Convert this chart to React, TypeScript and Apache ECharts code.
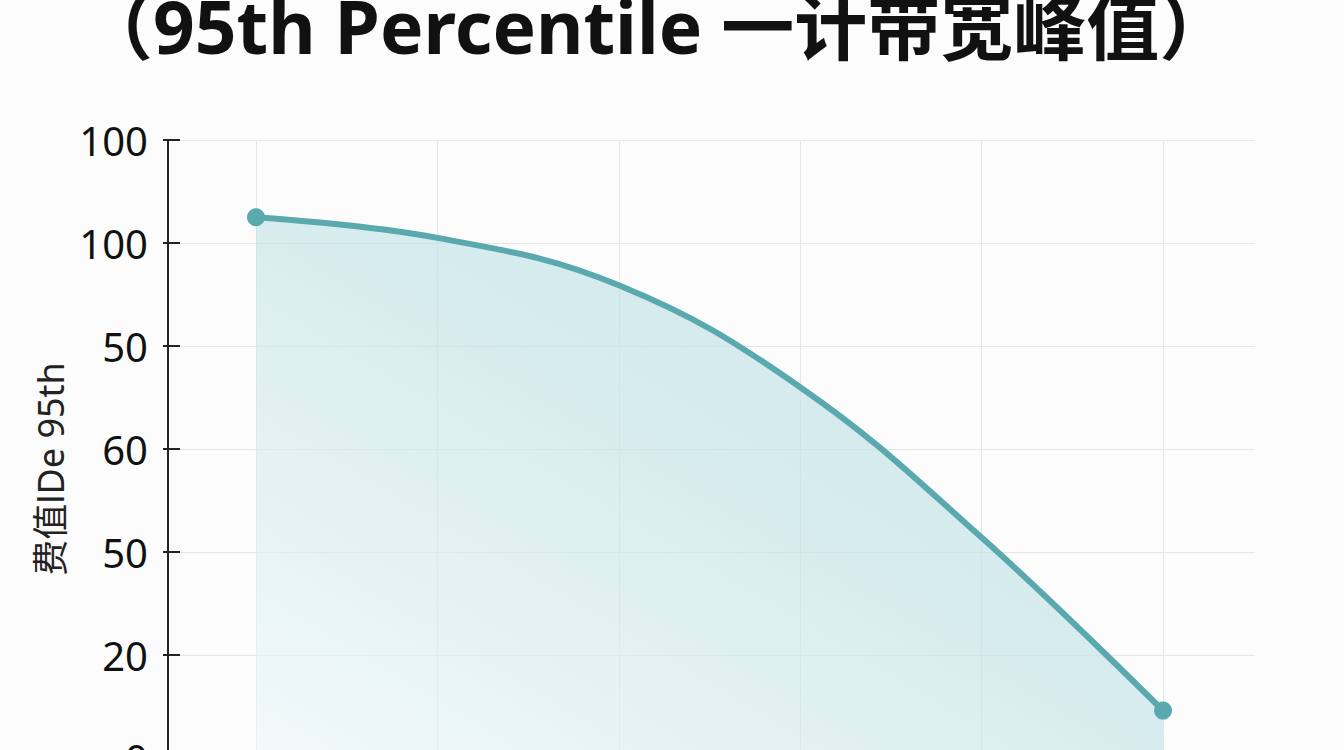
import { useEffect, useRef } from "react"
import * as echarts from "echarts"

// y axis is a plain 0..6 index scale; these are the labels printed at each step, bottom to top
const yTickLabels = ["0", "20", "50", "60", "50", "100", "100"]
const categories = ["1", "2", "3", "4", "5", "6"]
// values, in y-axis steps
const peakValues = [5.25, 5.05, 4.59, 3.6, 2.14, 0.46]

const titleText = "（95th Percentile 一计带宽峰值）"
const yName = "费值lDe 95th"

const W = 1344
const H = 800

export default function App() {
  const hostRef = useRef<HTMLDivElement>(null)

  useEffect(() => {
    const el = hostRef.current
    if (!el) return
    const chart = echarts.init(el, undefined, { renderer: "svg" })

    const last = peakValues.length - 1
    const fmt = (v: number) => yTickLabels[Math.round(v)] ?? ""

    chart.setOption({
      animation: false,
      backgroundColor: "#fcfcfc",
      title: {
        text: titleText,
        left: 80,
        top: -11,
        padding: 0,
        textStyle: {
          fontFamily: "'Noto Sans', 'Noto Sans CJK SC', sans-serif",
          fontWeight: "bold",
          fontSize: 73,
          color: "#111",
        },
      },
      grid: [
        { left: 180, right: W - 1255, top: 140, bottom: H - 758 },
        { left: 256, right: W - 1163, top: 140, bottom: H - 758 },
      ],
      xAxis: [
        { type: "value", gridIndex: 0, show: false, min: 0, max: 1 },
        {
          type: "category",
          gridIndex: 1,
          data: categories,
          boundaryGap: false,
          axisLine: { show: false },
          axisTick: { show: false },
          axisLabel: { show: false },
          splitLine: { show: true, lineStyle: { color: "#e5e5e5", width: 1 } },
        },
      ],
      yAxis: [
        {
          type: "value",
          gridIndex: 0,
          position: "left",
          min: 0,
          max: 6,
          interval: 1,
          offset: 12,
          name: yName,
          nameLocation: "middle",
          nameRotate: 90,
          nameGap: 87,
          nameTextStyle: {
            fontFamily: "'Noto Sans', 'Noto Sans CJK SC', sans-serif",
            fontSize: 36,
            color: "#222",
            padding: [0, 40, 0, 0],
          },
          axisLine: { show: true, onZero: false, lineStyle: { color: "#222", width: 2 } },
          axisTick: { show: true, length: 5, lineStyle: { color: "#222", width: 2 } },
          axisLabel: {
            formatter: fmt,
            fontFamily: "'Noto Sans', sans-serif",
            fontSize: 40,
            color: "#111",
            margin: 20,
          },
          splitLine: { show: true, lineStyle: { color: "#e5e5e5", width: 1 } },
        },
        {
          type: "value",
          gridIndex: 0,
          position: "left",
          min: 0,
          max: 6,
          interval: 1,
          offset: 12,
          axisLine: { show: false, onZero: false },
          axisTick: { show: true, inside: true, length: 12, lineStyle: { color: "#222", width: 2 } },
          axisLabel: { show: false },
          splitLine: { show: false },
        },
        {
          type: "value",
          gridIndex: 1,
          min: 0,
          max: 6,
          interval: 1,
          show: false,
          splitLine: { show: false },
        },
      ],
      series: [
        {
          type: "line",
          xAxisIndex: 1,
          yAxisIndex: 2,
          smooth: 0.4,
          data: peakValues.map((v, i) => ({
            value: v,
            symbol: i === 0 || i === last ? "circle" : "none",
          })),
          symbolSize: 18,
          itemStyle: { color: "#5aa9ae" },
          lineStyle: { color: "#5aa9ae", width: 6 },
          areaStyle: {
            color: new echarts.graphic.LinearGradient(1, 0, 0, 1, [
              { offset: 0, color: "#b8dee2" },
              { offset: 0.5, color: "#c9e6e9" },
              { offset: 1, color: "#eef8f8" },
            ]),
          },
        },
      ],
    })

    return () => {
      chart.dispose()
    }
  }, [])

  return (
    <div
      ref={hostRef}
      style={{ position: "fixed", top: 0, left: 0, width: W, height: H }}
      role="img"
      aria-label="95th Percentile 带宽峰值折线图"
    />
  )
}
